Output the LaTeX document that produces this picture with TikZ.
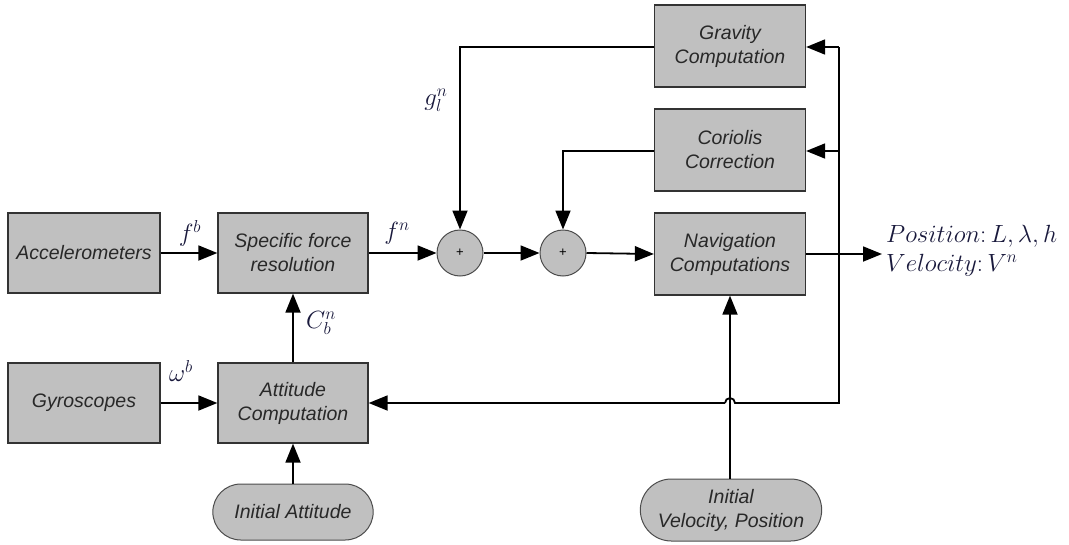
\documentclass[tikz,border=0pt]{standalone}
\usepackage{fontspec}
\setsansfont{Liberation Sans}
\usetikzlibrary{arrows.meta,shapes.misc}
\definecolor{boxfill}{RGB}{192,192,192}
\definecolor{boxtext}{RGB}{40,40,40}
\definecolor{mathcol}{RGB}{25,25,60}
\begin{document}
\begin{tikzpicture}[x=1pt,y=-1pt,
  blk/.style={draw=black!80,line width=1.3pt,fill=boxfill,minimum width=150pt,minimum height=80pt,
    align=center,font=\sffamily\itshape\fontsize{19.5}{24}\selectfont,text=boxtext},
  term/.style={draw=black!70,line width=1pt,fill=boxfill,rounded rectangle,align=center,
    font=\sffamily\itshape\fontsize{19.5}{24}\selectfont,text=boxtext},
  sumc/.style={draw=black!70,line width=1pt,fill=boxfill,circle,minimum size=46pt,inner sep=0pt,
    font=\sffamily\fontsize{13}{14}\selectfont},
  conn/.style={line width=1.8pt,-{Triangle[length=19pt,width=15pt]}},
  wire/.style={line width=1.8pt},
  lbl/.style={text=mathcol,font=\fontsize{27}{30}\selectfont}]
\useasboundingbox (0,0) rectangle (1069,544);
% blocks
\node[blk,minimum width=152pt] (acc) at (84,253) {Accelerometers};
\node[blk] (sfr) at (293,253) {Specific force\\resolution};
\node[blk,minimum width=152pt] (gyr) at (84,403) {Gyroscopes};
\node[blk] (att) at (293,403) {Attitude\\Computation};
\node[term,minimum width=167pt,minimum height=56pt] (iatt) at (293,512) {Initial Attitude};
\node[blk,minimum width=151pt,minimum height=82pt] (grav) at (730,46) {Gravity\\Computation};
\node[blk,minimum width=151pt,minimum height=82pt] (cor) at (730,150) {Coriolis\\Correction};
\node[blk,minimum width=151pt,minimum height=82pt] (nav) at (730,254) {Navigation\\Computations};
\node[term,minimum width=188pt,minimum height=62pt] (ivp) at (731,510) {Initial\\Velocity, Position};
\node[sumc] (s1) at (460,253) {+};
\node[sumc] (s2) at (563,253) {+};
% coordinates
\coordinate (fbB) at (839,403);
\coordinate (fbT) at (839,47);
\coordinate (fbM) at (839,151);
\coordinate (gl) at (460,47);
\coordinate (cl) at (563,151);
\coordinate (hopR) at (735,403);
\coordinate (hopL) at (725,403);
\coordinate (out) at (882,254);
% connectors
\draw[conn] (acc.east) -- (sfr.west);
\draw[conn] (gyr.east) -- (att.west);
\draw[conn] (att.north) -- (sfr.south);
\draw[conn] (iatt.north) -- (att.south);
\draw[conn] (sfr.east) -- (s1.west);
\draw[conn] (s1.east) -- (s2.west);
\draw[conn] (s2.east) -- (nav.west);
\draw[conn] (grav.west |- gl) -- (gl) -- (s1.north);
\draw[conn] (cor.west |- cl) -- (cl) -- (s2.north);
\draw[conn] (ivp.north -| nav.south) -- (nav.south);
\draw[conn] (nav.east) -- (out);
\draw[wire] (fbT) -- (fbB) -- (hopR) arc[start angle=0,end angle=180,radius=5pt] -- (hopL);
\draw[conn] (hopL) -- (att.east);
\draw[conn] (fbT) -- (grav.east |- fbT);
\draw[conn] (fbM) -- (cor.east |- fbM);
% labels
\node[lbl] (lfb) at (190,233) {$f^{b}$};
\node[lbl] (lfn) at (397,233) {$f^{n}$};
\node[lbl] (lcb) at (321,323) {$C_b^{n}$};
\node[lbl] (lwb) at (181,371) {$\omega^{b}$};
\node[lbl] (lgl) at (436,100) {$g_l^{n}$};
\node[text=mathcol,anchor=west,align=left,font=\fontsize{25}{29}\selectfont,inner sep=0pt] (pv) at (886,251)
  {$Position\colon L,\lambda,h$\\$Velocity\colon V^{n}$};
\end{tikzpicture}
\end{document}
